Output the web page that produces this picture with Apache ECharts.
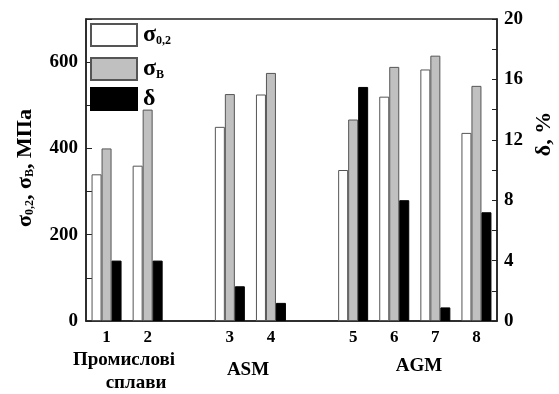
<!DOCTYPE html>
<html>
<head>
<meta charset="utf-8">
<script src="https://cdn.jsdelivr.net/npm/echarts@6/dist/echarts.min.js"></script>
<style>
    html, body { margin: 0; padding: 0; background: #fff; }
    #chart1 { width: 559px; height: 394px; }
</style>
</head>
<body>
<div id="chart1"></div>
<script>
// sample numbers, '-' = empty slot between the groups
var categories = ['1', '2', '', '3', '4', '', '5', '6', '7', '8'];
var sigma02 = [340, 360, '-', 450, 525, '-', 350, 520, 583, 436];   // МПа
var sigmaB = [400, 490, '-', 526, 575, '-', 467, 589, 615, 545];    // МПа
var delta = [4.0, 4.0, '-', 2.3, 1.2, '-', 15.5, 8.0, 0.9, 7.2];      // %
var seriesNames = ['σ0,2', 'σB', 'δ'];
var groupLabels = ['Промислові', 'сплави', 'ASM', 'AGM'];

var serif = 'Liberation Serif';
var axisColor = '#222';

var legendText = {
    'σ0,2': '{s|σ}{sub|0,2}',
    'σB': '{s|σ}{sub|B}',
    'δ': '{s|δ}'
};

function richStyle(big, small, drop) {
    return {
        s: { fontFamily: serif, fontWeight: 'bold', fontSize: big, lineHeight: big, verticalAlign: 'top', color: '#000' },
        sub: { fontFamily: serif, fontWeight: 'bold', fontSize: small, lineHeight: small, verticalAlign: 'bottom', padding: [drop, 0, 0, 0], color: '#000' }
    };
}

var option = {
    animation: false,
    backgroundColor: '#fff',
    grid: {
        left: 86,
        right: 62,
        top: 19,
        bottom: 73,
        show: true,
        borderColor: axisColor,
        borderWidth: 1.5
    },
    legend: {
        orient: 'vertical',
        left: 90,
        top: 19,
        padding: 0,
        itemWidth: 46,
        itemHeight: 22,
        itemGap: 6,
        icon: 'rect',
        data: seriesNames,
        formatter: function (name) {
            return legendText[name];
        },
        textStyle: {
            padding: [0, 0, 0, 1],
            rich: richStyle(24, 12, 16)
        }
    },
    xAxis: [
        {
            type: 'category',
            data: categories,
            axisLine: { lineStyle: { color: axisColor, width: 1.5 } },
            axisTick: { inside: true, length: 5, interval: 0, lineStyle: { color: axisColor } },
            axisLabel: {
                interval: 0,
                margin: 8,
                color: '#000',
                fontFamily: serif,
                fontWeight: 'bold',
                fontSize: 17
            },
            splitLine: { show: false }
        },
        {
            // ticks under every bar group
            type: 'category',
            data: categories,
            position: 'bottom',
            axisLine: { show: false },
            axisTick: { inside: true, length: 5, interval: 0, alignWithLabel: true, lineStyle: { color: axisColor } },
            axisLabel: { show: false },
            splitLine: { show: false }
        }
    ],
    yAxis: [
        {
            type: 'value',
            min: 0,
            max: 700,
            interval: 100,
            axisLine: { show: true, lineStyle: { color: axisColor, width: 1.5 } },
            axisTick: { show: true, inside: true, length: 6, lineStyle: { color: axisColor } },
            axisLabel: {
                margin: 8,
                color: '#000',
                fontFamily: serif,
                fontWeight: 'bold',
                fontSize: 19,
                formatter: function (v) {
                    return v % 200 === 0 ? v : '';
                }
            },
            splitLine: { show: false } //去除网格线
        },
        {
            type: 'value',
            min: 0,
            max: 20,
            interval: 2,
            axisLine: { show: true, lineStyle: { color: axisColor, width: 1.5 } },
            axisTick: { show: true, inside: true, length: 5, lineStyle: { color: axisColor } },
            axisLabel: {
                margin: 7,
                color: '#000',
                fontFamily: serif,
                fontWeight: 'bold',
                fontSize: 19,
                formatter: function (v) {
                    return v % 4 === 0 ? v : '';
                }
            },
            splitLine: { show: false }
        }
    ],
    series: [
        {
            name: seriesNames[0],
            type: 'bar',
            barGap: 0,
            barCategoryGap: '27%',
            itemStyle: { color: '#ffffff', borderColor: '#555', borderWidth: 1 },
            data: sigma02
        },
        {
            name: seriesNames[1],
            type: 'bar',
            barGap: 0,
            barCategoryGap: '27%',
            itemStyle: { color: '#c0c0c0', borderColor: '#555', borderWidth: 1 },
            data: sigmaB
        },
        {
            name: seriesNames[2],
            type: 'bar',
            yAxisIndex: 1,
            barGap: 0,
            barCategoryGap: '27%',
            itemStyle: { color: '#000000', borderColor: '#000', borderWidth: 1 },
            data: delta
        }
    ],
    graphic: [
        {
            type: 'text',
            x: 25,
            y: 168,
            rotation: Math.PI / 2,
            style: {
                text: '{s|σ}{sub|0,2}{s|, σ}{sub|B}{s|, МПа}',
                rich: richStyle(22, 12, 15),
                align: 'center',
                verticalAlign: 'middle'
            }
        },
        {
            type: 'text',
            x: 544,
            y: 134,
            rotation: Math.PI / 2,
            style: {
                text: 'δ, %',
                font: 'bold 22px "Liberation Serif"',
                fill: '#000',
                align: 'center',
                verticalAlign: 'middle'
            }
        },
        {
            type: 'text', x: 124, y: 360,
            style: { text: groupLabels[0], font: 'bold 19px "Liberation Serif"', fill: '#000', align: 'center', verticalAlign: 'middle' }
        },
        {
            type: 'text', x: 136, y: 383,
            style: { text: groupLabels[1], font: 'bold 19px "Liberation Serif"', fill: '#000', align: 'center', verticalAlign: 'middle' }
        },
        {
            type: 'text', x: 248, y: 370,
            style: { text: groupLabels[2], font: 'bold 19px "Liberation Serif"', fill: '#000', align: 'center', verticalAlign: 'middle' }
        },
        {
            type: 'text', x: 419, y: 366,
            style: { text: groupLabels[3], font: 'bold 19px "Liberation Serif"', fill: '#000', align: 'center', verticalAlign: 'middle' }
        }
    ]
};

var myChart = echarts.init(document.getElementById('chart1'));
myChart.setOption(option);
</script>
</body>
</html>
